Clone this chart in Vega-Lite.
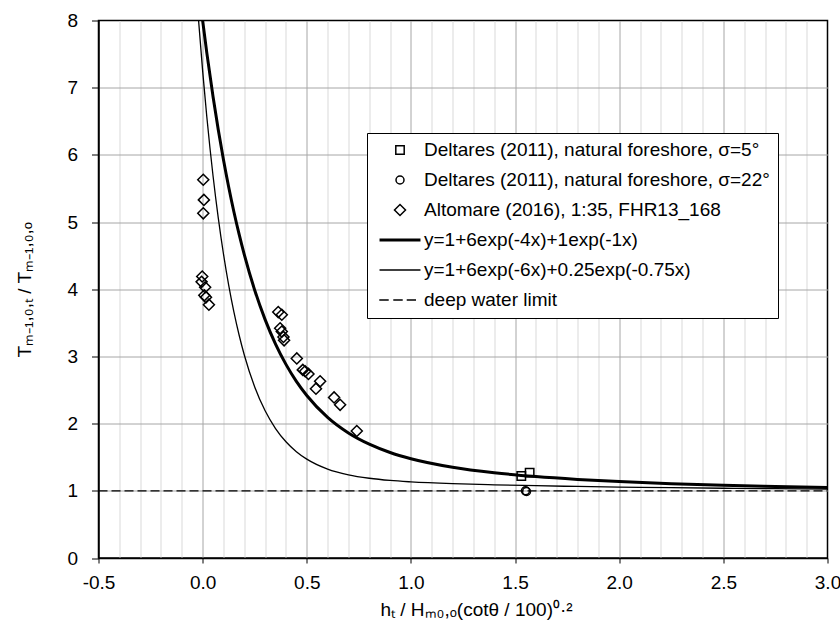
{
  "$schema": "https://vega.github.io/schema/vega-lite/v6.json",
  "width": 729,
  "height": 537.5,
  "autosize": {"type": "none"},
  "padding": {"left": 98.5, "top": 20.5, "right": 12.5, "bottom": 72},
  "background": "white",
  "config": {
    "font": "Liberation Sans",
    "view": {"stroke": "black", "strokeWidth": 1.5}
  },
  "datasets": {
    "points": [
      {"series": "Deltares (2011), natural foreshore, σ=5°", "x": 1.53, "y": 1.22},
      {"series": "Deltares (2011), natural foreshore, σ=5°", "x": 1.57, "y": 1.27},
      {"series": "Deltares (2011), natural foreshore, σ=22°", "x": 1.55, "y": 1.0},
      {"series": "Deltares (2011), natural foreshore, σ=22°", "x": 1.555, "y": 0.99},
      {"series": "Altomare (2016), 1:35, FHR13_168", "x": 0.003, "y": 5.63},
      {"series": "Altomare (2016), 1:35, FHR13_168", "x": 0.006, "y": 5.33},
      {"series": "Altomare (2016), 1:35, FHR13_168", "x": 0.003, "y": 5.13},
      {"series": "Altomare (2016), 1:35, FHR13_168", "x": -0.002, "y": 4.19},
      {"series": "Altomare (2016), 1:35, FHR13_168", "x": -0.005, "y": 4.11},
      {"series": "Altomare (2016), 1:35, FHR13_168", "x": 0.012, "y": 4.03},
      {"series": "Altomare (2016), 1:35, FHR13_168", "x": 0.008, "y": 3.91},
      {"series": "Altomare (2016), 1:35, FHR13_168", "x": 0.016, "y": 3.88},
      {"series": "Altomare (2016), 1:35, FHR13_168", "x": 0.03, "y": 3.77},
      {"series": "Altomare (2016), 1:35, FHR13_168", "x": 0.363, "y": 3.66},
      {"series": "Altomare (2016), 1:35, FHR13_168", "x": 0.38, "y": 3.62},
      {"series": "Altomare (2016), 1:35, FHR13_168", "x": 0.372, "y": 3.42},
      {"series": "Altomare (2016), 1:35, FHR13_168", "x": 0.38, "y": 3.37},
      {"series": "Altomare (2016), 1:35, FHR13_168", "x": 0.388, "y": 3.29},
      {"series": "Altomare (2016), 1:35, FHR13_168", "x": 0.391, "y": 3.24},
      {"series": "Altomare (2016), 1:35, FHR13_168", "x": 0.452, "y": 2.97},
      {"series": "Altomare (2016), 1:35, FHR13_168", "x": 0.481, "y": 2.8},
      {"series": "Altomare (2016), 1:35, FHR13_168", "x": 0.492, "y": 2.78},
      {"series": "Altomare (2016), 1:35, FHR13_168", "x": 0.508, "y": 2.74},
      {"series": "Altomare (2016), 1:35, FHR13_168", "x": 0.564, "y": 2.63},
      {"series": "Altomare (2016), 1:35, FHR13_168", "x": 0.544, "y": 2.52},
      {"series": "Altomare (2016), 1:35, FHR13_168", "x": 0.631, "y": 2.39},
      {"series": "Altomare (2016), 1:35, FHR13_168", "x": 0.66, "y": 2.28},
      {"series": "Altomare (2016), 1:35, FHR13_168", "x": 0.74, "y": 1.89}
    ],
    "thick": [
      {"series": "y=1+6exp(-4x)+1exp(-1x)", "x": -0.01, "y": 8.255},
      {"series": "y=1+6exp(-4x)+1exp(-1x)", "x": 0, "y": 8.0},
      {"series": "y=1+6exp(-4x)+1exp(-1x)", "x": 0.02, "y": 7.519},
      {"series": "y=1+6exp(-4x)+1exp(-1x)", "x": 0.05, "y": 6.864},
      {"series": "y=1+6exp(-4x)+1exp(-1x)", "x": 0.075, "y": 6.373},
      {"series": "y=1+6exp(-4x)+1exp(-1x)", "x": 0.1, "y": 5.927},
      {"series": "y=1+6exp(-4x)+1exp(-1x)", "x": 0.125, "y": 5.522},
      {"series": "y=1+6exp(-4x)+1exp(-1x)", "x": 0.15, "y": 5.154},
      {"series": "y=1+6exp(-4x)+1exp(-1x)", "x": 0.175, "y": 4.819},
      {"series": "y=1+6exp(-4x)+1exp(-1x)", "x": 0.2, "y": 4.515},
      {"series": "y=1+6exp(-4x)+1exp(-1x)", "x": 0.25, "y": 3.986},
      {"series": "y=1+6exp(-4x)+1exp(-1x)", "x": 0.3, "y": 3.548},
      {"series": "y=1+6exp(-4x)+1exp(-1x)", "x": 0.35, "y": 3.184},
      {"series": "y=1+6exp(-4x)+1exp(-1x)", "x": 0.4, "y": 2.882},
      {"series": "y=1+6exp(-4x)+1exp(-1x)", "x": 0.45, "y": 2.629},
      {"series": "y=1+6exp(-4x)+1exp(-1x)", "x": 0.5, "y": 2.419},
      {"series": "y=1+6exp(-4x)+1exp(-1x)", "x": 0.6, "y": 2.093},
      {"series": "y=1+6exp(-4x)+1exp(-1x)", "x": 0.7, "y": 1.861},
      {"series": "y=1+6exp(-4x)+1exp(-1x)", "x": 0.8, "y": 1.694},
      {"series": "y=1+6exp(-4x)+1exp(-1x)", "x": 0.9, "y": 1.57},
      {"series": "y=1+6exp(-4x)+1exp(-1x)", "x": 1.0, "y": 1.478},
      {"series": "y=1+6exp(-4x)+1exp(-1x)", "x": 1.2, "y": 1.351},
      {"series": "y=1+6exp(-4x)+1exp(-1x)", "x": 1.4, "y": 1.269},
      {"series": "y=1+6exp(-4x)+1exp(-1x)", "x": 1.6, "y": 1.212},
      {"series": "y=1+6exp(-4x)+1exp(-1x)", "x": 1.8, "y": 1.17},
      {"series": "y=1+6exp(-4x)+1exp(-1x)", "x": 2.0, "y": 1.137},
      {"series": "y=1+6exp(-4x)+1exp(-1x)", "x": 2.25, "y": 1.106},
      {"series": "y=1+6exp(-4x)+1exp(-1x)", "x": 2.5, "y": 1.082},
      {"series": "y=1+6exp(-4x)+1exp(-1x)", "x": 2.75, "y": 1.064},
      {"series": "y=1+6exp(-4x)+1exp(-1x)", "x": 3.0, "y": 1.05}
    ],
    "thin": [
      {"series": "y=1+6exp(-6x)+0.25exp(-0.75x)", "x": -0.02, "y": 8.019},
      {"series": "y=1+6exp(-6x)+0.25exp(-0.75x)", "x": 0, "y": 7.25},
      {"series": "y=1+6exp(-6x)+0.25exp(-0.75x)", "x": 0.02, "y": 6.568},
      {"series": "y=1+6exp(-6x)+0.25exp(-0.75x)", "x": 0.05, "y": 5.686},
      {"series": "y=1+6exp(-6x)+0.25exp(-0.75x)", "x": 0.075, "y": 5.062},
      {"series": "y=1+6exp(-6x)+0.25exp(-0.75x)", "x": 0.1, "y": 4.525},
      {"series": "y=1+6exp(-6x)+0.25exp(-0.75x)", "x": 0.125, "y": 4.062},
      {"series": "y=1+6exp(-6x)+0.25exp(-0.75x)", "x": 0.15, "y": 3.663},
      {"series": "y=1+6exp(-6x)+0.25exp(-0.75x)", "x": 0.175, "y": 3.319},
      {"series": "y=1+6exp(-6x)+0.25exp(-0.75x)", "x": 0.2, "y": 3.022},
      {"series": "y=1+6exp(-6x)+0.25exp(-0.75x)", "x": 0.25, "y": 2.546},
      {"series": "y=1+6exp(-6x)+0.25exp(-0.75x)", "x": 0.3, "y": 2.191},
      {"series": "y=1+6exp(-6x)+0.25exp(-0.75x)", "x": 0.35, "y": 1.927},
      {"series": "y=1+6exp(-6x)+0.25exp(-0.75x)", "x": 0.4, "y": 1.73},
      {"series": "y=1+6exp(-6x)+0.25exp(-0.75x)", "x": 0.45, "y": 1.582},
      {"series": "y=1+6exp(-6x)+0.25exp(-0.75x)", "x": 0.5, "y": 1.471},
      {"series": "y=1+6exp(-6x)+0.25exp(-0.75x)", "x": 0.6, "y": 1.323},
      {"series": "y=1+6exp(-6x)+0.25exp(-0.75x)", "x": 0.7, "y": 1.238},
      {"series": "y=1+6exp(-6x)+0.25exp(-0.75x)", "x": 0.8, "y": 1.187},
      {"series": "y=1+6exp(-6x)+0.25exp(-0.75x)", "x": 0.9, "y": 1.154},
      {"series": "y=1+6exp(-6x)+0.25exp(-0.75x)", "x": 1.0, "y": 1.133},
      {"series": "y=1+6exp(-6x)+0.25exp(-0.75x)", "x": 1.2, "y": 1.106},
      {"series": "y=1+6exp(-6x)+0.25exp(-0.75x)", "x": 1.4, "y": 1.089},
      {"series": "y=1+6exp(-6x)+0.25exp(-0.75x)", "x": 1.6, "y": 1.076},
      {"series": "y=1+6exp(-6x)+0.25exp(-0.75x)", "x": 1.8, "y": 1.065},
      {"series": "y=1+6exp(-6x)+0.25exp(-0.75x)", "x": 2.0, "y": 1.056},
      {"series": "y=1+6exp(-6x)+0.25exp(-0.75x)", "x": 2.25, "y": 1.046},
      {"series": "y=1+6exp(-6x)+0.25exp(-0.75x)", "x": 2.5, "y": 1.038},
      {"series": "y=1+6exp(-6x)+0.25exp(-0.75x)", "x": 2.75, "y": 1.032},
      {"series": "y=1+6exp(-6x)+0.25exp(-0.75x)", "x": 3.0, "y": 1.026}
    ],
    "deep": [
      {"series": "deep water limit", "x": -0.5, "y": 1},
      {"series": "deep water limit", "x": 3.0, "y": 1}
    ]
  },
  "encoding": {
    "x": {
      "field": "x",
      "type": "quantitative",
      "scale": {"domain": [-0.5, 3.0], "nice": false, "zero": false},
      "axis": {
        "values": [-0.5, -0.4, -0.3, -0.2, -0.1, 0, 0.1, 0.2, 0.3, 0.4, 0.5, 0.6, 0.7, 0.8, 0.9, 1.0, 1.1, 1.2, 1.3, 1.4, 1.5, 1.6, 1.7, 1.8, 1.9, 2.0, 2.1, 2.2, 2.3, 2.4, 2.5, 2.6, 2.7, 2.8, 2.9, 3.0],
        "labelExpr": "round(datum.value*10) % 5 == 0 ? (datum.value < 0 ? '-' + format(-datum.value, '.1f') : format(datum.value, '.1f')) : ''",
        "labelFont": "Liberation Sans",
        "labelFontSize": 19,
        "labelColor": "black",
        "labelFlush": false,
        "labelOverlap": false,
        "labelPadding": 10,
        "tickSize": 5,
        "tickColor": "black",
        "tickOpacity": {"condition": {"test": "round(datum.value*10) % 5 == 0", "value": 1}, "value": 0},
        "grid": true,
        "gridColor": {"condition": {"test": "round(datum.value*10) % 5 == 0", "value": "#a6a6a6"}, "value": "#d9d9d9"},
        "gridOpacity": {"condition": {"test": "datum.value <= -0.49 || datum.value >= 2.99", "value": 0}, "value": 1},
        "domainColor": "black",
        "domainWidth": 1.5,
        "title": "hₜ / Hₘ₀,ₒ(cotθ / 100)⁰·²",
        "titleFont": "Liberation Sans",
        "titleFontSize": 19,
        "titleFontWeight": "normal",
        "titleColor": "black",
        "titleAlign": "center",
        "titleBaseline": "alphabetic",
        "titleX": 377.5,
        "titleY": 57
      }
    },
    "y": {
      "field": "y",
      "type": "quantitative",
      "scale": {"domain": [0, 8], "nice": false, "zero": false},
      "axis": {
        "values": [0, 1, 2, 3, 4, 5, 6, 7, 8],
        "format": "d",
        "labelFont": "Liberation Sans",
        "labelFontSize": 19,
        "labelColor": "black",
        "labelFlush": false,
        "labelOverlap": false,
        "labelPadding": 14,
        "tickSize": 7,
        "tickColor": "black",
        "grid": true,
        "gridColor": "#a6a6a6",
        "gridOpacity": {"condition": {"test": "datum.value <= 0 || datum.value >= 8", "value": 0}, "value": 1},
        "domainColor": "black",
        "domainWidth": 1.5,
        "title": "Tₘ₋₁,₀,ₜ / Tₘ₋₁,₀,ₒ",
        "titleFont": "Liberation Sans",
        "titleFontSize": 19,
        "titleFontWeight": "normal",
        "titleColor": "black",
        "titleAngle": -90,
        "titleAlign": "center",
        "titleBaseline": "alphabetic",
        "titleX": -68.5,
        "titleY": 268.75
      }
    }
  },
  "layer": [
    {
      "data": {"name": "deep"},
      "mark": {"type": "line", "color": "black", "strokeWidth": 1.3, "strokeDash": [9, 4], "clip": true},
      "encoding": {}
    },
    {
      "data": {"name": "thin"},
      "mark": {"type": "line", "color": "black", "strokeWidth": 1.3, "clip": true, "interpolate": "monotone"},
      "encoding": {}
    },
    {
      "data": {"name": "thick"},
      "mark": {"type": "line", "color": "black", "strokeWidth": 3, "clip": true, "interpolate": "monotone"},
      "encoding": {}
    },
    {
      "data": {"name": "points"},
      "mark": {"type": "point", "filled": false, "size": 256, "strokeWidth": 1.5, "color": "black", "opacity": 1, "clip": true},
      "encoding": {
        "shape": {
          "field": "series",
          "type": "nominal",
          "scale": {
            "domain": [
              "Deltares (2011), natural foreshore, σ=5°",
              "Deltares (2011), natural foreshore, σ=22°",
              "Altomare (2016), 1:35, FHR13_168",
              "y=1+6exp(-4x)+1exp(-1x)",
              "y=1+6exp(-6x)+0.25exp(-0.75x)",
              "deep water limit"
            ],
            "range": [
              "M-0.525,-0.525H0.525V0.525H-0.525Z",
              "M0.5,0A0.5,0.5,0,1,1,-0.5,0A0.5,0.5,0,1,1,0.5,0Z",
              "M-0.69,0L0,-0.69L0.69,0L0,0.69Z",
              "M-2.56,-0.1H2.56M-2.56,0H2.56M-2.56,0.1H2.56",
              "M-2.56,0H2.56",
              "M-2.59,0H-1.41M-0.84,0H0.34M0.84,0H2.0"
            ]
          },
          "legend": {
            "title": null,
            "orient": "none",
            "legendX": 268.5,
            "legendY": 112.5,
            "padding": 7.5,
            "fillColor": "white",
            "strokeColor": "black",
            "labelFont": "Liberation Sans",
            "labelFontSize": 19,
            "labelColor": "black",
            "labelLimit": 600,
            "symbolSize": 256,
            "symbolOffset": 16,
            "labelOffset": 14.5,
            "rowPadding": 10,
            "symbolStrokeColor": "black",
            "symbolFillColor": "transparent",
            "symbolStrokeWidth": 1.5,
            "symbolOpacity": 1
          }
        }
      }
    }
  ]
}
